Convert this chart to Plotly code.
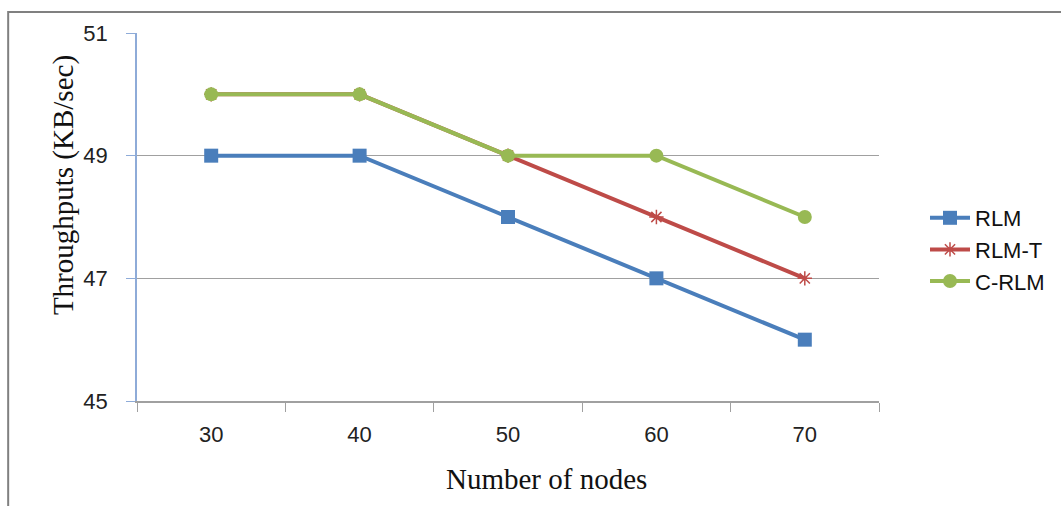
import plotly.graph_objects as go

nodes = ["30", "40", "50", "60", "70"]
rlm = [49, 49, 48, 47, 46]
rlm_t = [50, 50, 49, 48, 47]
c_rlm = [50, 50, 49, 49, 48]
y_ticks = [45, 47, 49, 51]

W, H = 1061, 506
L, R, T, B = 137, 880, 33, 401


def px(x):
    return (x - L) / (R - L)


def py(y):
    return (B - y) / (B - T)


fig = go.Figure()
fig.add_trace(go.Scatter(x=nodes, y=rlm, name="RLM", mode="lines+markers",
                         line=dict(color="#4A7EBB", width=4),
                         marker=dict(symbol="square", size=14, color="#4A7EBB")))
fig.add_trace(go.Scatter(x=nodes, y=rlm_t, name="RLM-T", mode="lines+markers",
                         line=dict(color="#BE4B48", width=4),
                         marker=dict(symbol="asterisk-open", size=12,
                                     line=dict(color="#BE4B48", width=1.5))))
fig.add_trace(go.Scatter(x=nodes, y=c_rlm, name="C-RLM", mode="lines+markers",
                         line=dict(color="#98B954", width=4),
                         marker=dict(symbol="circle", size=14, color="#98B954")))

tickfont = dict(family="Liberation Sans, Arial, sans-serif", size=22, color="#222")
serif = dict(family="Liberation Serif, Times New Roman, serif", size=29, color="#111")

fig.update_layout(
    width=W, height=H,
    margin=dict(l=L, r=W - R, t=T, b=H - B, pad=0),
    paper_bgcolor="white", plot_bgcolor="white",
    font=tickfont,
    showlegend=True,
    legend=dict(x=px(925), y=py(197), xanchor="left", yanchor="top",
                font=dict(size=22, family="Liberation Sans, Arial, sans-serif", color="#111"),
                itemwidth=40, tracegroupgap=4, bgcolor="rgba(0,0,0,0)"),
    xaxis=dict(type="category", range=[-0.5, 4.5], tickson="boundaries",
               ticks="outside", ticklen=9, tickcolor="#A0A0A0", tickfont=tickfont,
               showline=True, linecolor="#A0A0A0", linewidth=1.5,
               showgrid=False, zeroline=False, ticklabelstandoff=13),
    yaxis=dict(range=[45, 51], tickvals=y_ticks, ticks="outside", ticklen=9,
               tickcolor="#8EABD8", tickfont=tickfont, showline=True, linecolor="#8EABD8",
               linewidth=1.5, showgrid=True, gridcolor="#A0A0A0", gridwidth=1.2,
               zeroline=False, ticklabelstandoff=14),
    annotations=[
        dict(text="Number of nodes", x=px(547), y=py(479), xref="paper", yref="paper",
             xanchor="center", yanchor="middle", showarrow=False, font=serif),
        dict(text="Throughputs (KB/sec)", x=px(64), y=py(185), xref="paper", yref="paper",
             xanchor="center", yanchor="middle", textangle=-90, showarrow=False, font=serif),
    ],
)

# outer chart frame (cropped at right and bottom)
fig.add_shape(type="rect", xref="paper", yref="paper",
              x0=px(8), x1=px(1075), y0=py(520), y1=py(12),
              line=dict(color="#808080", width=2), fillcolor="rgba(0,0,0,0)", layer="below")

fig.write_html("out.html")
